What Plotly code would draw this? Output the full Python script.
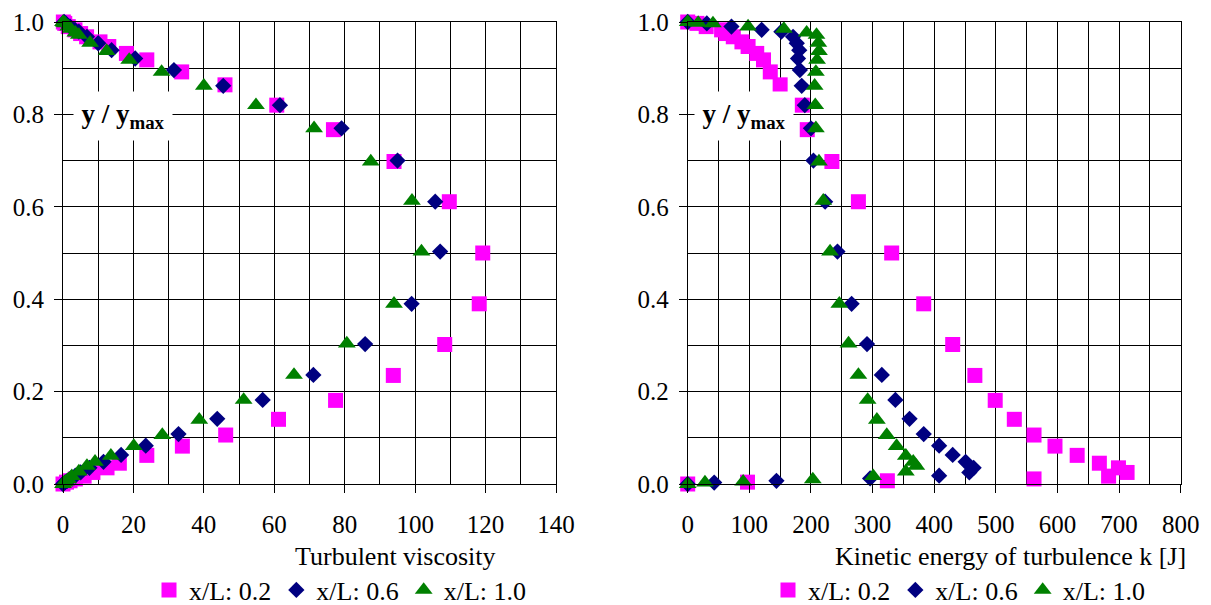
import plotly.graph_objects as go

# Profiles of y / y_max at three stations x/L = 0.2, 0.6, 1.0
Y_02 = [1.0, 0.997, 0.99, 0.983, 0.975, 0.968, 0.957, 0.947, 0.932, 0.918, 0.892, 0.864, 0.82, 0.767,
        0.698, 0.611, 0.50, 0.39, 0.302, 0.235, 0.181, 0.14, 0.106, 0.082, 0.062, 0.045, 0.035, 0.025,
        0.017, 0.011, 0.007, 0.004, 0.0]
NU_02 = [0.1, 0.5, 1.5, 3.4, 5.0, 6.7, 10.5, 13.0, 18.0, 23.8, 33.7, 46.0, 60.7, 76.8,
         94.0, 109.7, 119.2, 118.2, 108.4, 93.8, 77.4, 61.2, 46.2, 33.9, 23.8, 16.0, 12.5, 8.5,
         6.0, 3.5, 2.0, 1.0, 0.0]
K_02 = [0, 15, 30, 55, 62, 74, 88, 98, 112, 123, 134, 150, 186, 194,
        234, 277, 331, 383, 430, 466, 499, 530, 562, 596, 632, 668, 699, 713,
        683, 562, 324, 97, 0]

Y_06 = [1.0, 0.997, 0.99, 0.983, 0.979, 0.968, 0.954, 0.939, 0.921, 0.896, 0.862, 0.82, 0.77, 0.70,
        0.611, 0.503, 0.39, 0.303, 0.236, 0.182, 0.141, 0.108, 0.083, 0.063, 0.048, 0.035, 0.025,
        0.018, 0.012, 0.007, 0.003, 0.0]
NU_06 = [0.3, 0.8, 2.0, 3.4, 4.5, 6.8, 10.0, 13.8, 20.5, 31.5, 45.5, 61.6, 79.1, 95.0,
         105.7, 107.1, 99.0, 85.8, 71.1, 56.7, 43.8, 32.8, 23.5, 16.5, 11.5, 7.5, 5.0,
         3.5, 2.2, 1.2, 0.5, 0.0]
K_06 = [0, 31, 71, 120, 152, 171, 177, 181, 179, 182, 185, 190, 200, 204,
        223, 243, 266, 291, 315, 337, 360, 383, 408, 430, 451, 464, 457,
        408, 296, 144, 43, 0]

Y_10 = [1.0, 0.998, 0.997, 0.99, 0.985, 0.977, 0.972, 0.955, 0.937, 0.918, 0.892, 0.862, 0.82, 0.77,
        0.698, 0.613, 0.503, 0.39, 0.304, 0.236, 0.182, 0.139, 0.106, 0.082, 0.061, 0.048, 0.039,
        0.027, 0.017, 0.010, 0.005, 0.003, 0.0]
NU_10 = [0.0, 0.3, 0.6, 1.5, 2.2, 3.5, 4.5, 7.7, 12.4, 18.8, 28.0, 40.0, 54.8, 71.3,
         87.4, 99.1, 101.8, 94.0, 80.6, 65.6, 51.3, 38.7, 28.2, 20.1, 13.6, 9.1, 6.8,
         4.5, 2.5, 1.5, 0.8, 0.4, 0.0]
K_10 = [0, 17, 41, 98, 156, 193, 209, 212, 213, 210, 208, 206, 207, 208,
        213, 220, 231, 246, 261, 277, 292, 307, 323, 339, 354, 366, 371,
        354, 301, 203, 90, 28, 0]

SERIES_NAMES = ["x/L: 0.2", "x/L: 0.6", "x/L: 1.0"]
LEFT_TITLE = "Turbulent viscosity"
RIGHT_TITLE = "Kinetic energy of turbulence k [J]"

FONT = "Liberation Serif, Times New Roman, serif"
W, H = 1211, 605

styles = [
    dict(symbol="square", size=15, color="#FF00FF"),
    dict(symbol="diamond", size=12.5, color="#000080"),
    dict(symbol="triangle-up", size=15.5, color="#008000"),
]
ys = [Y_02, Y_06, Y_10]
left_x = [NU_02, NU_06, NU_10]
right_x = [K_02, K_06, K_10]

fig = go.Figure()
for name, st, xv, yv in zip(SERIES_NAMES, styles, left_x, ys):
    fig.add_trace(go.Scatter(x=xv, y=yv, mode="markers", name=name, legend="legend",
                             cliponaxis=False, xaxis="x", yaxis="y",
                             marker=dict(symbol=st["symbol"], size=st["size"], color=st["color"],
                                         line=dict(width=0))))
for name, st, xv, yv in zip(SERIES_NAMES, styles, right_x, ys):
    fig.add_trace(go.Scatter(x=xv, y=yv, mode="markers", name=name, legend="legend2",
                             cliponaxis=False, xaxis="x2", yaxis="y2",
                             marker=dict(symbol=st["symbol"], size=st["size"], color=st["color"],
                                         line=dict(width=0))))

# plot areas in pixels
L_X0, L_X1 = 63, 556
R_X0, R_X1 = 687.7, 1180.7
Y_TOP, Y_BOT = 22, 484


def xdom(a, b):
    return [a / W, b / W]


ydom = [1 - Y_BOT / H, 1 - Y_TOP / H]

axis_common = dict(showline=True, linecolor="black", linewidth=1, mirror=True,
                   showgrid=True, gridcolor="black", gridwidth=1, zeroline=False,
                   ticks="outside", ticklen=8, tickcolor="black", tickwidth=1,
                   automargin=False,
                   tickfont=dict(family=FONT, size=25, color="black"))

fig.update_layout(
    width=W, height=H,
    margin=dict(l=0, r=0, t=0, b=0, autoexpand=False),
    paper_bgcolor="white", plot_bgcolor="white",
    font=dict(family=FONT, size=26, color="black"),
    xaxis=dict(domain=xdom(L_X0, L_X1), range=[0, 140], dtick=20, anchor="y",
               minor=dict(dtick=10, showgrid=True, gridcolor="black", gridwidth=1, ticks=""),
               ticklabelstandoff=10, **axis_common),
    yaxis=dict(domain=ydom, range=[0, 1], dtick=0.2, tickformat=".1f", anchor="x",
               minor=dict(dtick=0.1, showgrid=True, gridcolor="black", gridwidth=1, ticks=""),
               ticklabelstandoff=5, **axis_common),
    xaxis2=dict(domain=xdom(R_X0, R_X1), range=[0, 800], dtick=100, anchor="y2",
                minor=dict(dtick=50, showgrid=True, gridcolor="black", gridwidth=1, ticks=""),
                ticklabelstandoff=10, **axis_common),
    yaxis2=dict(domain=ydom, range=[0, 1], dtick=0.2, tickformat=".1f", anchor="x2",
                minor=dict(dtick=0.1, showgrid=True, gridcolor="black", gridwidth=1, ticks=""),
                ticklabelstandoff=5, **axis_common),
    legend=dict(orientation="h", x=149 / W, y=1 - 590 / H, xanchor="left", yanchor="middle",
                font=dict(family=FONT, size=26), bgcolor="rgba(0,0,0,0)",
                itemclick=False, itemdoubleclick=False),
    legend2=dict(orientation="h", x=768 / W, y=1 - 590 / H, xanchor="left", yanchor="middle",
                 font=dict(family=FONT, size=26), bgcolor="rgba(0,0,0,0)",
                 itemclick=False, itemdoubleclick=False),
)

# axis titles placed below the tick labels, offset toward the right
fig.add_annotation(text=LEFT_TITLE, xref="paper", yref="paper", x=395 / W, y=1 - 556 / H,
                   showarrow=False, xanchor="center", yanchor="middle",
                   font=dict(family=FONT, size=26, color="black"))
fig.add_annotation(text=RIGHT_TITLE, xref="paper", yref="paper", x=1010 / W, y=1 - 556 / H,
                   showarrow=False, xanchor="center", yanchor="middle",
                   font=dict(family=FONT, size=26, color="black"))

# y / y_max labels inside each panel on a white box
for cx in (122.5, 744):
    fig.add_annotation(text="<b>y / y<sub>max</sub></b>", xref="paper", yref="paper",
                       x=cx / W, y=1 - 116 / H, showarrow=False,
                       xanchor="center", yanchor="middle", width=96, height=46,
                       bgcolor="white", font=dict(family=FONT, size=27, color="black"))

fig.write_html("out.html")
